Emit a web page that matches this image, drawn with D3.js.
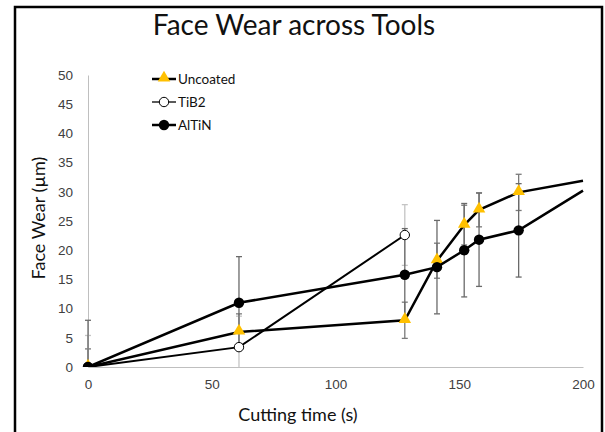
<!DOCTYPE html>
<html>
<head>
<meta charset="utf-8">
<script src="https://cdn.jsdelivr.net/npm/d3@7"></script>
<style>
  body { margin: 0; background: #fff; }
  svg { display: block; font-family: Lato, "Open Sans", sans-serif; }
  .tick text { fill: #404040; font-size: 13.5px; }
</style>
</head>
<body>
<svg width="605" height="432"></svg>
<script>
// cutting time (s) shared by Uncoated and AlTiN
var time = [0, 61, 128, 141, 152, 158, 174, 200];
var uncoated    = [0, 6.0, 8.0, 18.2, 24.3, 26.9, 29.9, 31.9];
var uncoatedErr = [3.1, 3.1, 3.1, 3.0, 3.4, 2.9, 3.1, null];
var altin       = [0, 11.0, 15.8, 17.1, 20.0, 21.8, 23.4, 30.2];
var altinErr    = [8.0, 7.9, 7.9, 8.0, 8.0, 8.0, 8.0, null];
// TiB2 only has three points
var timeTib2 = [0, 61, 128];
var tib2     = [0, 3.4, 22.6];
var tib2Err  = [5.4, 5.3, 5.2];

var xTicks = [0, 50, 100, 150, 200];
var yTicks = [0, 5, 10, 15, 20, 25, 30, 35, 40, 45, 50];

var svg = d3.select("svg");

// outer frame
svg.append("rect")
  .attr("x", 15).attr("y", 7)
  .attr("width", 587).attr("height", 440)
  .attr("fill", "none")
  .attr("stroke", "#000")
  .attr("stroke-width", 2.5);

var x = d3.scaleLinear().domain([0, 200]).range([88, 583]);
var y = d3.scaleLinear().domain([0, 50]).range([367, 75]);

function zip(xs, ys, es) {
  return xs.map(function(t, i) { return {x: t, y: ys[i], e: es[i]}; });
}
var series = [
  {name: "Uncoated", data: zip(time, uncoated, uncoatedErr), marker: "tri", width: 2.5, errColor: "#7a7a7a"},
  {name: "TiB2", data: zip(timeTib2, tib2, tib2Err), marker: "open", width: 2, errColor: "#c4c4c4"},
  {name: "AlTiN", data: zip(time, altin, altinErr), marker: "dot", width: 2.5, errColor: "#6a6a6a"}
];

svg.append("text")
  .attr("x", 294).attr("y", 35)
  .attr("text-anchor", "middle")
  .attr("font-size", 28)
  .attr("fill", "#111")
  .text("Face Wear across Tools");

// axes
var yAxis = svg.append("g")
  .attr("transform", "translate(88,0)")
  .call(d3.axisLeft(y).tickValues(yTicks).tickSize(0).tickPadding(15));
yAxis.select(".domain").attr("stroke", "#bfbfbf");

var xAxis = svg.append("g")
  .attr("transform", "translate(0,367)")
  .call(d3.axisBottom(x).tickValues(xTicks).tickSize(0).tickPadding(12));
xAxis.select(".domain").attr("stroke", "#bfbfbf");

svg.append("text")
  .attr("x", 298).attr("y", 421)
  .attr("text-anchor", "middle")
  .attr("font-size", 18)
  .attr("fill", "#111")
  .text("Cutting time (s)");

svg.append("text")
  .attr("transform", "translate(45,218) rotate(-90)")
  .attr("text-anchor", "middle")
  .attr("font-size", 18)
  .attr("fill", "#111")
  .text("Face Wear (µm)");

svg.append("clipPath").attr("id", "plotclip")
  .append("rect").attr("x", 0).attr("y", 75).attr("width", 605).attr("height", 292);

var plot = svg.append("g").attr("clip-path", "url(#plotclip)");

// error bars
series.forEach(function(s) {
  var eb = plot.append("g").attr("stroke", s.errColor).attr("stroke-width", 1.3);
  var pts = s.data.filter(function(d) { return d.e != null; });
  eb.selectAll(".bar").data(pts).enter().append("line")
    .attr("x1", d => x(d.x)).attr("x2", d => x(d.x))
    .attr("y1", d => y(d.y + d.e)).attr("y2", d => y(d.y - d.e));
  eb.selectAll(".capTop").data(pts).enter().append("line")
    .attr("x1", d => x(d.x) - 3).attr("x2", d => x(d.x) + 3)
    .attr("y1", d => y(d.y + d.e)).attr("y2", d => y(d.y + d.e));
  eb.selectAll(".capBot").data(pts).enter().append("line")
    .attr("x1", d => x(d.x) - 3).attr("x2", d => x(d.x) + 3)
    .attr("y1", d => y(d.y - d.e)).attr("y2", d => y(d.y - d.e));
});

var line = d3.line().x(d => x(d.x)).y(d => y(d.y));
var tri = d3.symbol().type(d3.symbolTriangle).size(68);

function drawMarker(g, kind) {
  if (kind == "tri") {
    g.append("path").attr("d", tri).attr("fill", "#ffc000").attr("transform", "translate(0,-1)");
  } else if (kind == "open") {
    g.append("circle").attr("r", 4.7).attr("fill", "#fff").attr("stroke", "#000").attr("stroke-width", 1);
  } else {
    g.append("circle").attr("r", 5.2).attr("fill", "#000");
  }
}

series.forEach(function(s) {
  plot.append("path")
    .datum(s.data)
    .attr("d", line)
    .attr("fill", "none")
    .attr("stroke", "#000")
    .attr("stroke-width", s.width);
  // last point at the axis edge has no visible marker
  plot.selectAll(".m-" + s.marker)
    .data(s.data.filter(d => d.x < 200))
    .enter().append("g")
      .attr("class", "m-" + s.marker)
      .attr("transform", d => "translate(" + x(d.x) + "," + y(d.y) + ")")
      .each(function() { drawMarker(d3.select(this), s.marker); });
});

// legend
var legend = svg.append("g");
series.forEach(function(s, i) {
  var ly = 79 + i * 23;
  legend.append("line")
    .attr("x1", 152).attr("x2", 176)
    .attr("y1", ly).attr("y2", ly)
    .attr("stroke", "#000")
    .attr("stroke-width", s.marker == "open" ? 1.3 : 2.5);
  var mg = legend.append("g").attr("transform", "translate(164," + ly + ")");
  drawMarker(mg, s.marker);
  legend.append("text")
    .attr("x", 178).attr("y", ly)
    .attr("dy", "0.35em")
    .attr("font-size", 13.5)
    .attr("fill", "#111")
    .text(s.name);
});
</script>
</body>
</html>
